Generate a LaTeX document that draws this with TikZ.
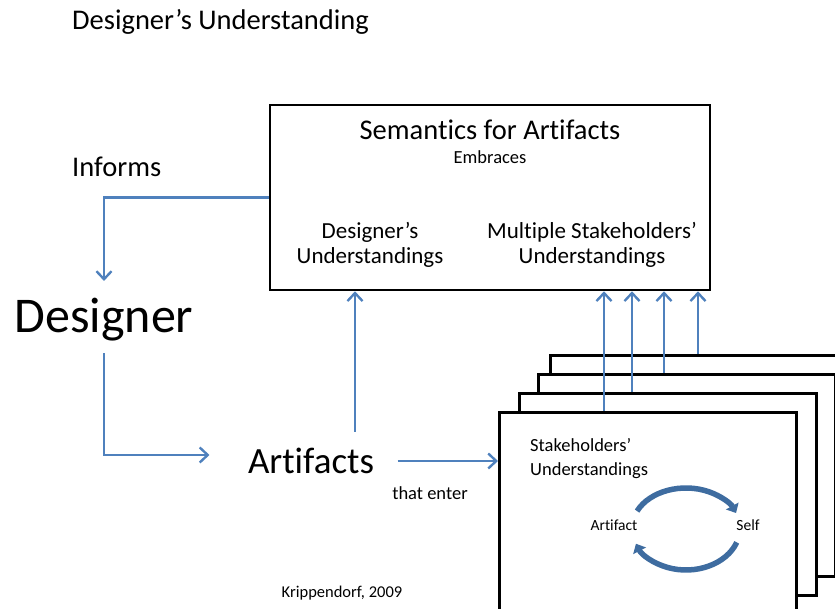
\documentclass[tikz,border=0pt]{standalone}
\usepackage{fontspec}
\setmainfont{Carlito}[Ligatures=NoCommon]
\usetikzlibrary{arrows.meta, positioning, calc}
\definecolor{flowblue}{RGB}{79,129,189}
\definecolor{cycleblue}{RGB}{62,108,160}

\begin{document}
\begin{tikzpicture}[x=1pt, y=1pt,
    panel/.style={rectangle, draw=black, line width=2.6pt, fill=white, inner sep=0pt},
    card/.style={panel, minimum width=297, minimum height=202, anchor=north west},
    flow/.style={draw=flowblue, line width=2.4pt, -{Straight Barb[length=8pt, width=15pt]}},
    loopy/.style={draw=cycleblue, line width=5.5pt, -{Triangle[length=8pt, width=14pt]}},
    big/.style={font=\fontsize{28.5}{32}\selectfont},
    mid/.style={font=\fontsize{23}{25}\selectfont, align=center},
    small/.style={font=\fontsize{18.5}{24}\selectfont}
]
    \useasboundingbox (0,0) rectangle (835,609);
    \clip (0,0) rectangle (835,609);

    % headings
    \node[big, anchor=west, inner sep=0pt] (title) at (72,587) {Designer’s Understanding};
    \node[big, anchor=west, inner sep=0pt] (informs) at (72,442) {Informs};

    % semantics box
    \node[panel, minimum width=440, minimum height=185] (sem) at (490,411.5) {};
    \node[big] (semtitle) at (490,479) {Semantics for Artifacts};
    \node[small] (embraces) at (490,452) {Embraces};
    \node[mid] (desund) at (370,364) {Designer’s\\Understandings};
    \node[mid] (multund) at (592,364) {Multiple Stakeholders’\\Understandings};

    % designer and artifacts
    \node[font=\fontsize{50}{60}\selectfont] (designer) at (104,289) {Designer};
    \node[font=\fontsize{37}{44}\selectfont] (artifacts) at (311,148) {Artifacts};
    \node[small] (enter) at (430,116) {that enter};

    % stakeholder cards, back to front
    \node[card] (card4) at (549,255) {};
    \node[card] (card3) at (537,236) {};
    \node[card] (card2) at (518,217) {};
    \node[card] (card1) at (498,198) {};
    \node[small, anchor=west, align=left, inner sep=0pt] (stake) at (530,150) {Stakeholders’\\Understandings};

    % artifact / self loop
    \coordinate (loop) at (686,81);
    \node[font=\fontsize{15.5}{18}\selectfont] (artifact) at (614,84) {Artifact};
    \node[font=\fontsize{15.5}{18}\selectfont] (self) at (748,84) {Self};
    \draw[loopy] ([shift={(155:54 and 40)}]loop) arc[start angle=155, end angle=22, x radius=54, y radius=40];
    \draw[loopy] ([shift={(-20:54 and 42)}]loop) arc[start angle=-20, end angle=-158, x radius=54, y radius=42];

    \node[font=\fontsize{16.5}{20}\selectfont] (source) at (342,16) {Krippendorf, 2009};

    % connectors
    \draw[flow] (sem.west) -| ([yshift=14pt]designer.north);
    \draw[flow] ([yshift=-8pt]designer.south) |- ([xshift=-35pt, yshift=6pt]artifacts.west);
    \draw[flow] ([shift={(44pt,13pt)}]artifacts.north) -- ([xshift=44pt]artifacts.north |- sem.south);
    \draw[flow] ([xshift=20pt]artifacts.east) -- (artifacts.east -| card1.west);
    \foreach \n/\x in {1/604, 2/632, 3/664, 4/698}
        \draw[flow] (\x,0 |- card\n.north) -- (\x,0 |- sem.south);
\end{tikzpicture}
\end{document}
